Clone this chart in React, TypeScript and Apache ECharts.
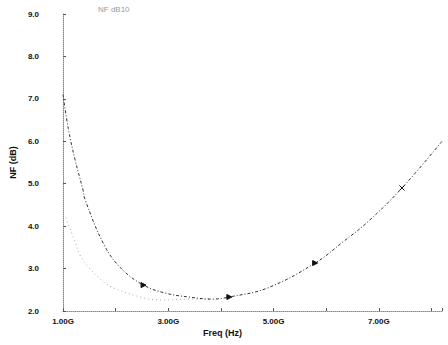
import React, { useEffect, useRef } from "react";
import * as echarts from "echarts";

const freqMain = [1.0, 1.1, 1.23, 1.38, 1.42, 1.78, 2.1, 2.53, 2.95, 3.39, 3.84, 4.16, 4.88, 5.79, 6.32, 6.78, 7.44, 8.2];
const nfMain = [7.1, 6.3, 5.56, 4.85, 4.62, 3.56, 3.01, 2.61, 2.42, 2.33, 2.28, 2.33, 2.54, 3.13, 3.63, 4.09, 4.9, 6.0];
const markerIdx = [7, 11, 13];
const crossIdx = [16];

const freqMin = [1.05, 1.23, 1.32, 1.5, 1.78, 1.97, 2.53, 2.9, 3.4, 3.8];
const nfMin = [4.2, 3.63, 3.32, 3.01, 2.68, 2.54, 2.31, 2.26, 2.28, 2.28];

const xLabels = [1, 3, 5, 7];

export default function App() {
  const ref = useRef<HTMLDivElement>(null);
  useEffect(() => {
    const chart = echarts.init(ref.current!, undefined, { renderer: "svg" });
    const mainData = freqMain.map((f, i) => {
      if (markerIdx.includes(i)) return { value: [f, nfMain[i]], symbol: "triangle", symbolSize: 5, symbolRotate: -90 };
      if (crossIdx.includes(i)) return { value: [f, nfMain[i]], symbol: "path://M0,0L10,10M10,0L0,10", symbolSize: 5 };
      return { value: [f, nfMain[i]], symbol: "none" };
    });
    chart.setOption({
      animation: false,
      backgroundColor: "#fff",
      grid: { left: 62, top: 14, bottom: 34, right: 6 },
      xAxis: {
        type: "value",
        min: 1,
        max: 8.2,
        interval: 1,
        axisLine: { lineStyle: { color: "#888", type: "dotted", width: 1 } },
        axisTick: { show: true, length: 3, inside: true, lineStyle: { color: "#555" } },
        splitLine: { show: false },
        axisLabel: {
          color: "#111",
          fontSize: 8,
          fontWeight: "bold",
          fontFamily: "Liberation Sans",
          margin: 6,
          formatter: (v: number) => (xLabels.includes(Math.round(v)) && Math.abs(v - Math.round(v)) < 1e-6 ? v.toFixed(2) + "G" : ""),
        },
      },
      yAxis: {
        type: "value",
        min: 2,
        max: 9,
        interval: 1,
        name: "NF (dB)",
        nameLocation: "middle",
        nameGap: 37,
        nameTextStyle: { color: "#111", fontSize: 9, fontWeight: "bold", fontFamily: "Liberation Sans" },
        axisLine: { lineStyle: { color: "#888", type: "dotted", width: 1 } },
        axisTick: { show: true, length: 3, inside: true, lineStyle: { color: "#555" } },
        splitLine: { show: false },
        axisLabel: {
          color: "#111",
          fontSize: 8,
          fontWeight: "bold",
          fontFamily: "Liberation Sans",
          margin: 24,
          formatter: (v: number) => v.toFixed(1),
        },
      },
      graphic: [
        { type: "text", left: 203, top: 328, style: { text: "Freq (Hz)", fill: "#111", font: "bold 9px Liberation Sans" } },
        { type: "text", left: 98, top: 5, style: { text: "NF dB10", fill: "#999", font: "8px Liberation Sans" } },
      ],
      series: [
        {
          type: "line",
          smooth: 0.4,
          data: freqMin.map((f, i) => [f, nfMin[i]]),
          showSymbol: false,
          lineStyle: { color: "#aaa", width: 1, type: [1, 3] },
        },
        {
          type: "line",
          smooth: 0.4,
          data: mainData,
          lineStyle: { color: "#333", width: 1, type: [3, 2, 1, 2] },
          itemStyle: { color: "#111", borderColor: "#111" },
        },
      ],
    });
    return () => chart.dispose();
  }, []);
  return <div ref={ref} style={{ position: "fixed", left: 0, top: 0, width: 448, height: 345 }} />;
}
